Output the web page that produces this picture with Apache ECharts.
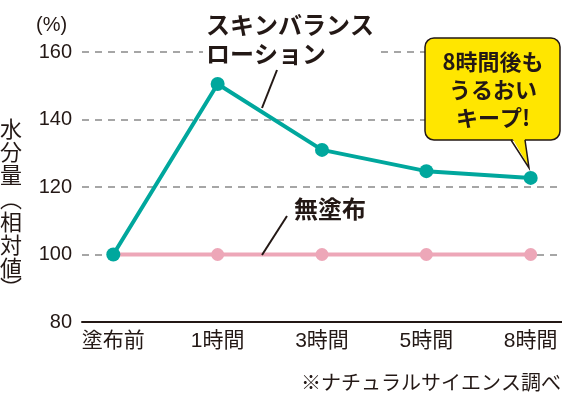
<!DOCTYPE html>
<html><head><meta charset="utf-8">
<script src="https://cdn.jsdelivr.net/npm/echarts@6/dist/echarts.min.js"></script>
<style>html,body{margin:0;padding:0;background:#fff}#c{width:562px;height:393px}</style>
</head><body><div id="c"></div>
<script>
var categories = ['塗布前', '1時間', '3時間', '5時間', '8時間'];
var lotionValues = [100, 150.5, 131, 124.7, 122.7];
var noApplyValues = [100, 100, 100, 100, 100];
var yTicks = [80, 100, 120, 140, 160];

var JP = '"Noto Sans CJK JP", sans-serif';
var NUM = '"Liberation Sans", "Noto Sans CJK JP", sans-serif';
var INK = '#231815';

function pairs(vals){ return vals.map(function(v,i){ return [i, v]; }); }

var chart = echarts.init(document.getElementById('c'), null, {renderer:'canvas'});
chart.setOption({
  animation: false,
  grid: {left: 82, right: 0, top: 52, bottom: 71, containLabel: false},
  xAxis: {
    type: 'value', min: -0.3, max: 4.3,
    axisLine: {show: true, lineStyle: {color: INK, width: 2}},
    axisTick: {show: false},
    splitLine: {show: false},
    axisLabel: {
      customValues: [0,1,2,3,4],
      formatter: function(v){ return categories[Math.round(v)]; },
      color: INK, fontSize: 21, fontFamily: NUM, margin: 9
    }
  },
  yAxis: {
    type: 'value', min: yTicks[0], max: yTicks[yTicks.length-1], interval: 20,
    axisLine: {show: false}, axisTick: {show: false},
    axisLabel: {color: INK, fontSize: 20, fontFamily: NUM, margin: 10},
    splitLine: {show: true, lineStyle: {color: '#a6a6a6', width: 2, type: [7, 6]}}
  },
  series: [
    {
      type: 'line', data: pairs(noApplyValues), symbol: 'circle', symbolSize: 13,
      lineStyle: {color: '#eda7b8', width: 4}, itemStyle: {color: '#eda7b8'}, z: 2
    },
    {
      type: 'line', data: pairs(lotionValues), symbol: 'circle', symbolSize: 14,
      lineStyle: {color: '#00a79d', width: 4}, itemStyle: {color: '#00a79d'}, z: 3
    }
  ],
  graphic: [
    {type: 'text', left: 36, top: 15, style: {text: '(%)', font: '20px ' + NUM, fill: INK}},
    {type: 'text', left: 0, top: 118, style: {
      text: '{a|水}\n{a|分}\n{a|量}\n{p|︵}\n{a|相}\n{a|対}\n{a|値}\n{q|︶}',
      rich: {
        a: {fontSize: 22, lineHeight: 23, fontFamily: JP, fill: INK},
        p: {fontSize: 22, lineHeight: 24, fontFamily: JP, fill: INK},
        q: {fontSize: 22, lineHeight: 16, fontFamily: JP, fill: INK}
      }
    }},
    {type: 'line', shape: {x1: 262, y1: 108, x2: 277, y2: 70}, style: {stroke: INK, lineWidth: 2}, z: 10},
    {type: 'line', shape: {x1: 262, y1: 255, x2: 287, y2: 216}, style: {stroke: INK, lineWidth: 2}, z: 10},
    {type: 'text', left: 203, top: 9, z: 11, style: {
      text: 'スキンバランス\nローション', font: 'bold 24px ' + JP, fill: INK,
      lineHeight: 29, backgroundColor: '#fff', padding: [1, 3, 0, 3]
    }},
    {type: 'text', left: 291, top: 196, z: 11, style: {
      text: '無塗布', font: 'bold 24px ' + JP, fill: INK,
      backgroundColor: '#fff', padding: [1, 3, 1, 3]
    }},
    {type: 'rect', z: 12, shape: {x: 425, y: 38, width: 135, height: 102, r: 9},
      style: {fill: '#ffe600', stroke: INK, lineWidth: 1.5}},
    {type: 'polygon', z: 13, shape: {points: [[511.5, 137], [529, 167], [524.5, 137]]},
      style: {fill: '#ffe600', stroke: null}},
    {type: 'polyline', z: 14, shape: {points: [[511, 140], [529, 168], [525, 140]]},
      style: {fill: null, stroke: INK, lineWidth: 1.5}},
    {type: 'text', z: 15, x: 493, y: 90, style: {
      text: '8時間後も\nうるおい\nキープ!', font: 'bold 22px ' + JP, fill: INK,
      align: 'center', verticalAlign: 'middle', lineHeight: 28
    }},
    {type: 'text', z: 15, x: 561, y: 382, style: {
      text: '※ナチュラルサイエンス調べ', font: '20px ' + JP, fill: INK,
      align: 'right', verticalAlign: 'middle'
    }}
  ]
});
</script>
</body></html>
